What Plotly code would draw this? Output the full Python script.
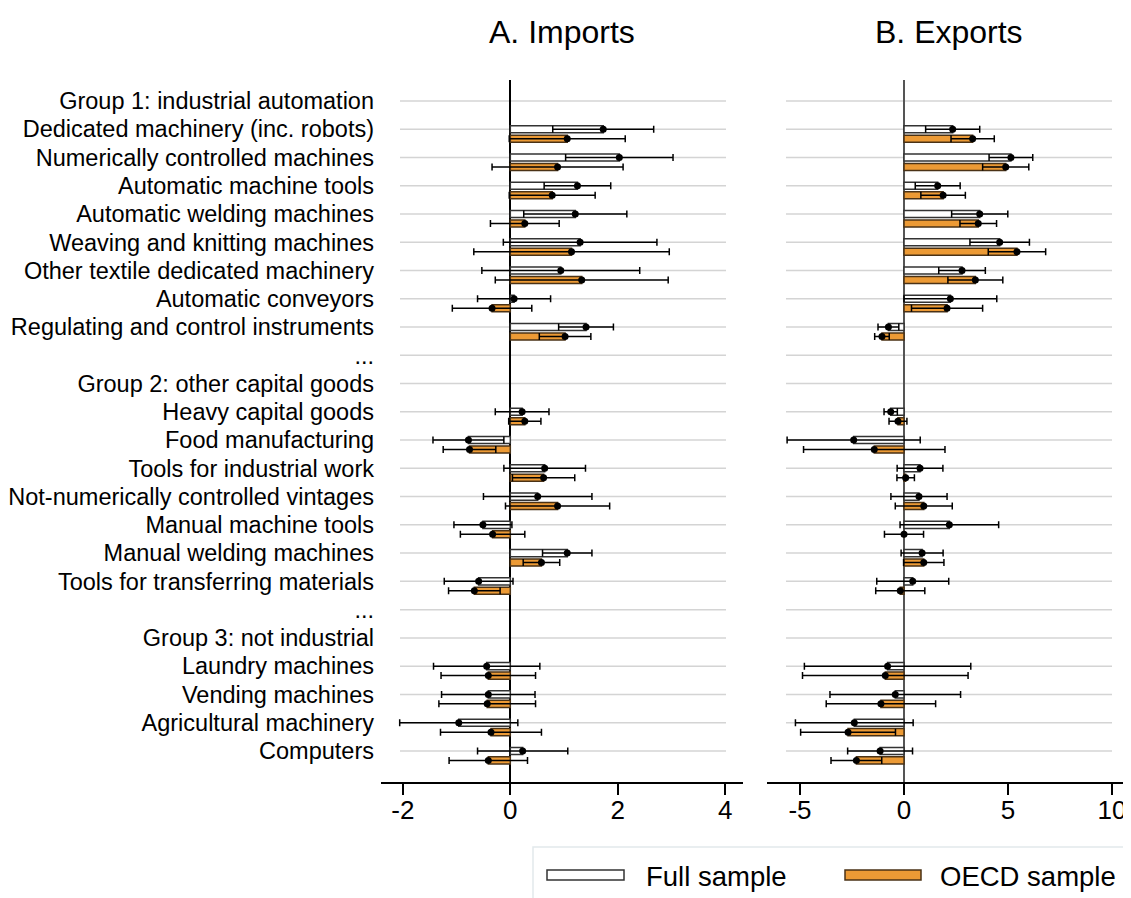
import plotly.graph_objects as go
from plotly.subplots import make_subplots

# row labels, top to bottom (header rows carry no estimate)
labels = [
    "Group 1: industrial automation",
    "Dedicated machinery (inc. robots)",
    "Numerically controlled machines",
    "Automatic machine tools",
    "Automatic welding machines",
    "Weaving and knitting machines",
    "Other textile dedicated machinery",
    "Automatic conveyors",
    "Regulating and control instruments",
    "...",
    "Group 2: other capital goods",
    "Heavy capital goods",
    "Food manufacturing",
    "Tools for industrial work",
    "Not-numerically controlled vintages",
    "Manual machine tools",
    "Manual welding machines",
    "Tools for transferring materials",
    "...",
    "Group 3: not industrial",
    "Laundry machines",
    "Vending machines",
    "Agricultural machinery",
    "Computers",
]

# point estimates and 95% CI half-widths, None on header rows
imp_full = [None, 1.73, 2.03, 1.25, 1.21, 1.30, 0.94, 0.07, 1.41, None,
            None, 0.22, -0.78, 0.64, 0.51, -0.51, 1.06, -0.59, None,
            None, -0.44, -0.41, -0.96, 0.23]
imp_full_ci = [None, 0.94, 1.00, 0.62, 0.96, 1.43, 1.47, 0.68, 0.51, None,
               None, 0.50, 0.66, 0.76, 1.01, 0.54, 0.46, 0.64, None,
               None, 0.99, 0.87, 1.10, 0.84]
imp_oecd = [None, 1.06, 0.88, 0.78, 0.27, 1.14, 1.33, -0.34, 1.02, None,
            None, 0.27, -0.76, 0.62, 0.88, -0.33, 0.58, -0.67, None,
            None, -0.41, -0.43, -0.36, -0.41]
imp_oecd_ci = [None, 1.08, 1.22, 0.80, 0.64, 1.82, 1.61, 0.74, 0.48, None,
               None, 0.30, 0.49, 0.58, 0.97, 0.60, 0.34, 0.48, None,
               None, 0.88, 0.90, 0.94, 0.73]

exp_full = [None, 2.34, 5.14, 1.62, 3.64, 4.60, 2.79, 2.23, -0.75, None,
            None, -0.64, -2.42, 0.77, 0.72, 2.18, 0.87, 0.42, None,
            None, -0.79, -0.42, -2.39, -1.15]
exp_full_ci = [None, 1.30, 1.05, 1.08, 1.35, 1.43, 1.12, 2.23, 0.50, None,
               None, 0.32, 3.20, 1.10, 1.35, 2.37, 1.01, 1.73, None,
               None, 4.00, 3.14, 2.83, 1.56]
exp_oecd = [None, 3.30, 4.89, 1.88, 3.57, 5.43, 3.43, 2.07, -1.06, None,
            None, -0.29, -1.43, 0.08, 0.95, 0.00, 0.95, -0.18, None,
            None, -0.90, -1.11, -2.69, -2.29]
exp_oecd_ci = [None, 1.04, 1.11, 1.07, 0.88, 1.38, 1.32, 1.71, 0.35, None,
               None, 0.43, 3.40, 0.42, 1.37, 0.94, 0.97, 1.18, None,
               None, 3.98, 2.63, 2.28, 1.22]

imp_ticks = [-2, 0, 2, 4]
exp_ticks = [-5, 0, 5, 10]

ORANGE = "#EC9A35"
FONT = "Liberation Sans, Arial, sans-serif"
PAD = 8  # the html page puts the plot 8px in from the corner
W, H = 1131 - PAD, 898 - PAD
BAR_W = 0.25
OECD_SHIFT = 0.335


def px(x):
    return (x - PAD) / W


def py(y):
    return 1 - (y - PAD) / H


def rows(est, ci):
    idx = [i for i, v in enumerate(est) if v is not None]
    return idx, [est[i] for i in idx], [ci[i] for i in idx]


fig = make_subplots(rows=1, cols=2)

panels = [(1, imp_full, imp_full_ci, imp_oecd, imp_oecd_ci),
          (2, exp_full, exp_full_ci, exp_oecd, exp_oecd_ci)]
for col, full, full_ci, oecd, oecd_ci in panels:
    for est, ci, fill, edge, shift in [(full, full_ci, "white", "#333333", 0.0),
                                        (oecd, oecd_ci, ORANGE, "#4a3216", OECD_SHIFT)]:
        y, x, e = rows(est, ci)
        fig.add_trace(go.Bar(
            x=x, y=y, orientation="h", width=BAR_W, offset=shift - BAR_W / 2,
            marker=dict(color=fill, line=dict(color=edge, width=1.5)),
            showlegend=False, hoverinfo="skip",
        ), row=1, col=col)
        fig.add_trace(go.Scatter(
            x=x, y=[v + shift for v in y], mode="markers",
            marker=dict(color="black", size=7),
            error_x=dict(type="data", array=e, color="black", thickness=1.5, width=3.5),
            showlegend=False, hoverinfo="skip",
        ), row=1, col=col)

yrange = [24.10, -0.743]
ydom = [py(782), py(80)]

xstyle = dict(showgrid=False, zeroline=True, zerolinewidth=1.5,
              showline=True, linecolor="black", linewidth=1.5,
              ticks="outside", ticklen=11, tickwidth=1.5, tickcolor="black",
              ticklabelstandoff=-7, tickfont=dict(size=26))

fig.update_layout(
    width=W, height=H,
    margin=dict(l=0, r=0, t=0, b=0),
    plot_bgcolor="white", paper_bgcolor="white",
    font=dict(family=FONT, color="black"),
    barmode="overlay",
    xaxis=dict(domain=[px(381), px(743)], range=[-2.408, 4.333],
               tickvals=imp_ticks, ticktext=[str(t) for t in imp_ticks],
               zerolinecolor="black", **xstyle),
    xaxis2=dict(domain=[px(767), px(1129)], range=[-6.587, 10.817],
                tickvals=exp_ticks, ticktext=[str(t) for t in exp_ticks],
                zerolinecolor="#555555", **xstyle),
    yaxis=dict(domain=ydom, range=yrange, showgrid=False, zeroline=False,
               tickvals=list(range(len(labels))), ticktext=labels,
               ticks="", ticklabelstandoff=6, tickfont=dict(size=23.5)),
    yaxis2=dict(domain=ydom, range=yrange, showgrid=False, zeroline=False,
                showticklabels=False, ticks=""),
)

# horizontal guide lines, inset from the axis ends
shapes = []
for i in range(len(labels)):
    for x0, x1, yref in [(400, 726, "y"), (786, 1112, "y2")]:
        shapes.append(dict(type="line", xref="paper", yref=yref,
                           x0=px(x0), x1=px(x1), y0=i, y1=i,
                           line=dict(color="#d4d4d4", width=1.5), layer="below"))

# legend box drawn by hand to get the long swatches
shapes.append(dict(type="rect", xref="paper", yref="paper",
                   x0=px(533), x1=px(1140), y0=py(847), y1=py(905),
                   line=dict(color="#e2e9ec", width=1.5), fillcolor="rgba(0,0,0,0)"))
shapes.append(dict(type="rect", xref="paper", yref="paper",
                   x0=px(547), x1=px(624), y0=py(880), y1=py(870),
                   line=dict(color="#333333", width=1.5), fillcolor="white"))
shapes.append(dict(type="rect", xref="paper", yref="paper",
                   x0=px(845), x1=px(921), y0=py(880), y1=py(870),
                   line=dict(color="#4a3216", width=1.5), fillcolor=ORANGE))
fig.update_layout(shapes=shapes)

annotations = [
    dict(text="A. Imports", x=px(562), y=py(32), xref="paper", yref="paper",
         showarrow=False, font=dict(size=32), xanchor="center", yanchor="middle"),
    dict(text="B. Exports", x=px(949), y=py(32), xref="paper", yref="paper",
         showarrow=False, font=dict(size=32), xanchor="center", yanchor="middle"),
    dict(text="Full sample", x=px(644), y=py(876), xref="paper", yref="paper",
         showarrow=False, font=dict(size=27.5), xanchor="left", yanchor="middle"),
    dict(text="OECD sample", x=px(938), y=py(876), xref="paper", yref="paper",
         showarrow=False, font=dict(size=27.5), xanchor="left", yanchor="middle"),
]
fig.update_layout(annotations=annotations)

fig.write_html("out.html")
